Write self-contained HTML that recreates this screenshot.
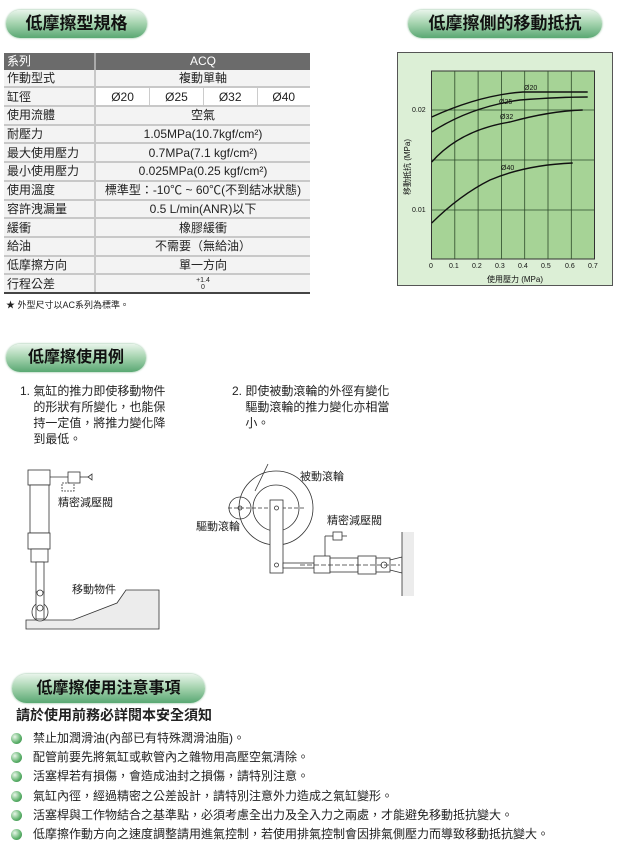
<!DOCTYPE html>
<html><head><meta charset="utf-8"><style>
body{margin:0;width:620px;height:856px;background:#fff;position:relative;font-family:"Liberation Sans","Noto Sans CJK TC",sans-serif;color:#222;overflow:hidden}
.pill{position:absolute;border-radius:16px;background:linear-gradient(#e8f4ea,#a9d5b2 45%,#5aa873 100%);box-shadow:0 0 2px #7bb58a;font-weight:bold;color:#111;text-align:center}
table{position:absolute;left:4px;top:53px;width:306px;border-collapse:collapse;font-size:12px}
td{height:16.7px;padding:0 3px;border-bottom:2px solid #c8c8c8;background:#f3f3f3;text-align:center;line-height:14px}
td.l{text-align:left;width:84px;border-right:2px solid #c8c8c8}
tr.h td{background:#6b6b6b;color:#fff;border-bottom:none}
.t{position:absolute;font-size:12px;line-height:16px;white-space:nowrap}
.b{position:absolute;left:11px;width:11px;height:11px;border-radius:50%;background:radial-gradient(circle at 35% 35%,#e8f6e8,#5cb06a 60%,#2f7d40)}
</style></head><body>
<div class="pill" style="left:6px;top:10px;width:141px;height:28px;font-size:17px;line-height:28px">低摩擦型規格</div>
<div class="pill" style="left:408px;top:10px;width:194px;height:28px;font-size:17px;line-height:28px">低摩擦側的移動抵抗</div>
<div class="pill" style="left:6px;top:344px;width:140px;height:28px;font-size:16px;line-height:28px">低摩擦使用例</div>
<div class="pill" style="left:12px;top:674px;width:193px;height:29px;font-size:16px;line-height:29px">低摩擦使用注意事項</div>

<table>
<tr class="h"><td class="l" style="border-right:2px solid #aaa">系列</td><td colspan="4">ACQ</td></tr>
<tr><td class="l">作動型式</td><td colspan="4">複動單軸</td></tr>
<tr><td class="l">缸徑</td><td style="background:#fff;border-right:1px solid #ccc">Ø20</td><td style="background:#fff;border-right:1px solid #ccc">Ø25</td><td style="background:#fff;border-right:1px solid #ccc">Ø32</td><td style="background:#fff">Ø40</td></tr>
<tr><td class="l">使用流體</td><td colspan="4">空氣</td></tr>
<tr><td class="l">耐壓力</td><td colspan="4">1.05MPa(10.7kgf/cm²)</td></tr>
<tr><td class="l">最大使用壓力</td><td colspan="4">0.7MPa(7.1 kgf/cm²)</td></tr>
<tr><td class="l">最小使用壓力</td><td colspan="4">0.025MPa(0.25 kgf/cm²)</td></tr>
<tr><td class="l">使用溫度</td><td colspan="4" style="white-space:nowrap">標準型：-10℃ ~ 60℃(不到結冰狀態)</td></tr>
<tr><td class="l">容許洩漏量</td><td colspan="4">0.5 L/min(ANR)以下</td></tr>
<tr><td class="l">緩衝</td><td colspan="4">橡膠緩衝</td></tr>
<tr><td class="l">給油</td><td colspan="4">不需要（無給油）</td></tr>
<tr><td class="l">低摩擦方向</td><td colspan="4">單一方向</td></tr>
<tr><td class="l" style="border-bottom:2px solid #444">行程公差</td><td colspan="4" style="border-bottom:2px solid #444;font-size:7px;line-height:7px">+1.4<br>0</td></tr>
</table>
<div class="t" style="left:6px;top:297px;font-size:9px">★ 外型尺寸以AC系列為標準。</div>

<svg style="position:absolute;left:0;top:0" width="620" height="856">
<rect x="397.5" y="52.5" width="215" height="233" fill="#dcefd6" stroke="#555"/>
<rect x="431.5" y="71" width="163" height="188" fill="#a6d396" stroke="#333"/>
<g stroke="#2d4a2a" stroke-width="0.8">
<line x1="454.8" y1="71" x2="454.8" y2="259"/><line x1="478.1" y1="71" x2="478.1" y2="259"/><line x1="501.4" y1="71" x2="501.4" y2="259"/><line x1="524.7" y1="71" x2="524.7" y2="259"/><line x1="548" y1="71" x2="548" y2="259"/><line x1="571.3" y1="71" x2="571.3" y2="259"/>
<line x1="431.5" y1="110" x2="594.5" y2="110"/><line x1="431.5" y1="160" x2="594.5" y2="160"/><line x1="431.5" y1="210" x2="594.5" y2="210"/>
</g>
<g fill="none" stroke="#111" stroke-width="1.4">
<path d="M431.7,117 Q480,95 523,92 L587.7,92"/>
<path d="M431.7,132 Q470,107 520,100 Q560,97 587.7,97"/>
<path d="M431.7,162 Q460,130 510,122 Q550,111 582.7,110"/>
<path d="M431.7,223 Q460,195 490,180 Q525,165 572.7,163"/>
</g>
<g font-size="7" fill="#111" font-family="Liberation Sans,sans-serif">
<text x="524" y="90">Ø20</text><text x="499" y="104">Ø25</text><text x="500" y="119">Ø32</text><text x="501" y="170">Ø40</text>
<text x="412" y="112">0.02</text><text x="412" y="212">0.01</text>
<text x="429" y="268">0</text><text x="449" y="268">0.1</text><text x="472" y="268">0.2</text><text x="495" y="268">0.3</text><text x="518" y="268">0.4</text><text x="541" y="268">0.5</text><text x="565" y="268">0.6</text><text x="588" y="268">0.7</text>
<text x="487" y="282" font-size="8">使用壓力 (MPa)</text>
<text transform="translate(410,195) rotate(-90)" font-size="8">移動抵抗 (MPa)</text>
</g>

<!-- left diagram -->
<g stroke="#333" stroke-width="0.8" fill="#fff">
<polygon points="26,620 73,620 117,603 126,590 159,590 159,629 26,629" fill="#ececec"/>
<rect x="28" y="470" width="22" height="15"/><rect x="30" y="485" width="19" height="48"/>
<rect x="28" y="533" width="22" height="16"/><rect x="31" y="549" width="17" height="13"/>
<rect x="36" y="562" width="8" height="30"/>
<ellipse cx="40" cy="612" rx="8" ry="9"/><rect x="36" y="592" width="8" height="27"/><circle cx="40" cy="608" r="3"/><circle cx="40" cy="593" r="3"/>
<line x1="50" y1="477" x2="68" y2="477"/><rect x="68" y="472" width="12" height="11"/><line x1="80" y1="477" x2="88" y2="477"/><polygon points="88,477 92,474 92,480"/>
<path d="M70,483 l-8,0 l0,8 l12,0 l0,-8" fill="none" stroke-dasharray="2,1"/>
</g>
<!-- right diagram -->
<g stroke="#333" stroke-width="0.8" fill="none">
<line x1="255" y1="491" x2="268" y2="464"/>
<circle cx="240" cy="508" r="11" fill="#fff"/><circle cx="240" cy="508" r="2"/>
<circle cx="276" cy="508" r="37"/><circle cx="276" cy="508" r="23"/>
<line x1="228" y1="508" x2="305" y2="508" stroke-dasharray="4,2"/>
<rect x="270" y="500" width="13" height="73" fill="#fff"/><circle cx="276.5" cy="508" r="2"/><circle cx="276.5" cy="565" r="2"/>
<rect x="283" y="563" width="31" height="5" fill="#fff"/>
<rect x="314" y="556" width="16" height="17" fill="#fff"/><rect x="330" y="558" width="28" height="14" fill="#fff"/><rect x="358" y="556" width="18" height="18" fill="#fff"/><rect x="376" y="558" width="14" height="14" fill="#fff"/><circle cx="384" cy="565" r="3"/>
<polyline points="390,560 402,557 402,573 390,570"/>
<rect x="402" y="532" width="12" height="64" fill="#ececec" stroke="none"/><line x1="402" y1="532" x2="402" y2="596"/>
<line x1="325" y1="556" x2="325" y2="536"/><line x1="325" y1="536" x2="333" y2="536"/><rect x="333" y="532" width="9" height="8" fill="#fff"/><line x1="342" y1="536" x2="347" y2="536"/>
<line x1="300" y1="565" x2="400" y2="565" stroke-dasharray="5,2"/>
</g>
</svg>

<div class="t" style="left:20px;top:383px">1. 氣缸的推力即使移動物件<br>&nbsp;&nbsp;&nbsp;&nbsp;的形狀有所變化，也能保<br>&nbsp;&nbsp;&nbsp;&nbsp;持一定值，將推力變化降<br>&nbsp;&nbsp;&nbsp;&nbsp;到最低。</div>
<div class="t" style="left:232px;top:383px">2. 即使被動滾輪的外徑有變化<br>&nbsp;&nbsp;&nbsp;&nbsp;驅動滾輪的推力變化亦相當<br>&nbsp;&nbsp;&nbsp;&nbsp;小。</div>
<div class="t" style="left:58px;top:495px;font-size:11px">精密減壓閥</div>
<div class="t" style="left:72px;top:582px;font-size:11px">移動物件</div>
<div class="t" style="left:300px;top:469px;font-size:11px">被動滾輪</div>
<div class="t" style="left:196px;top:519px;font-size:11px">驅動滾輪</div>
<div class="t" style="left:327px;top:513px;font-size:11px">精密減壓閥</div>

<div class="t" style="left:16px;top:707px;font-size:14px;font-weight:bold">請於使用前務必詳閱本安全須知</div>
<div class="b" style="top:733px"></div><div class="t" style="left:33px;top:730px">禁止加潤滑油(內部已有特殊潤滑油脂)。</div>
<div class="b" style="top:752px"></div><div class="t" style="left:33px;top:749px">配管前要先將氣缸或軟管內之雜物用高壓空氣清除。</div>
<div class="b" style="top:771px"></div><div class="t" style="left:33px;top:768px">活塞桿若有損傷，會造成油封之損傷，請特別注意。</div>
<div class="b" style="top:791px"></div><div class="t" style="left:33px;top:788px">氣缸內徑，經過精密之公差設計，請特別注意外力造成之氣缸變形。</div>
<div class="b" style="top:810px"></div><div class="t" style="left:33px;top:807px">活塞桿與工作物結合之基準點，必須考慮全出力及全入力之兩處，才能避免移動抵抗變大。</div>
<div class="b" style="top:829px"></div><div class="t" style="left:33px;top:826px">低摩擦作動方向之速度調整請用進氣控制，若使用排氣控制會因排氣側壓力而導致移動抵抗變大。</div>
</body></html>
